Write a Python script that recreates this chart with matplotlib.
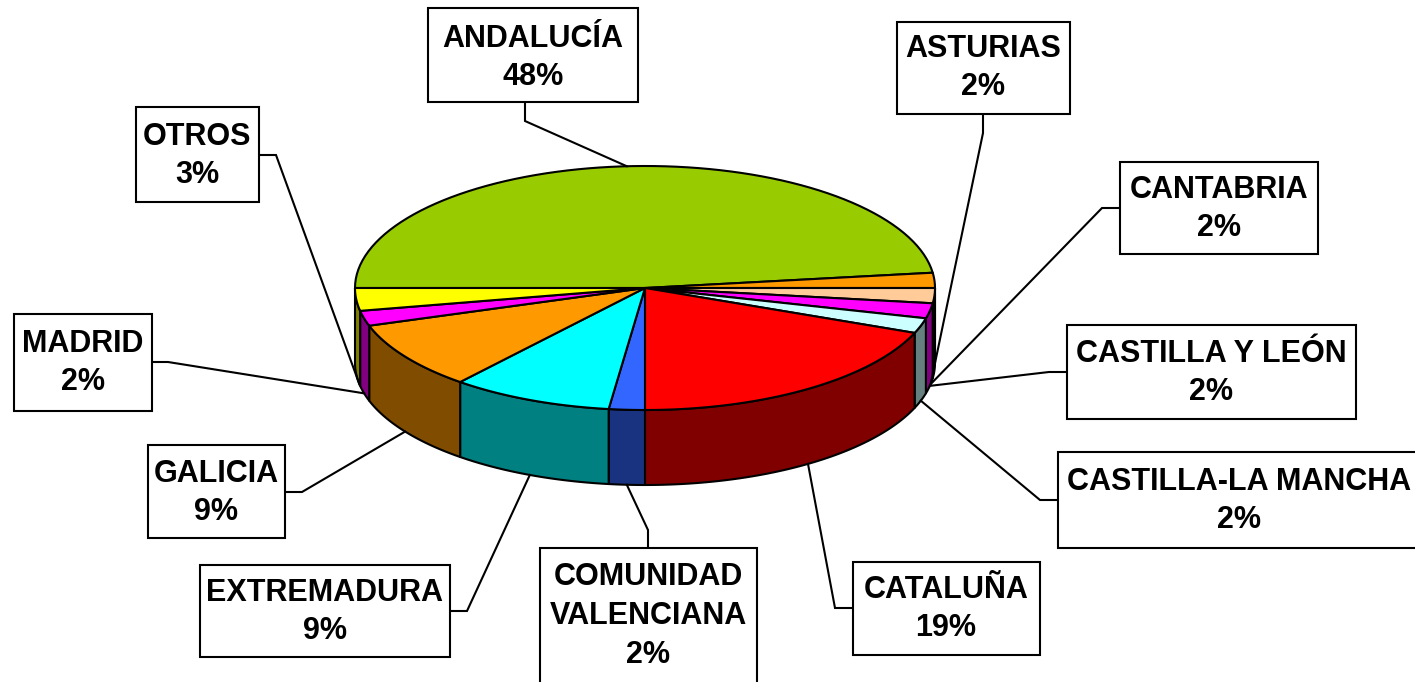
import matplotlib.pyplot as plt
import numpy as np
from matplotlib.patches import Polygon, Rectangle

plt.rcParams["font.family"] = ["Liberation Sans", "DejaVu Sans"]

# data, clockwise from the first slice
regions = ["ANDALUCÍA", "ASTURIAS", "CANTABRIA", "CASTILLA Y LEÓN", "CASTILLA-LA MANCHA",
           "CATALUÑA", "COMUNIDAD\nVALENCIANA", "EXTREMADURA", "GALICIA", "MADRID", "OTROS"]
shares = [48, 2, 2, 2, 2, 19, 2, 9, 9, 2, 3]
colors = ["#99CC00", "#FF9900", "#FFCC99", "#FF00FF", "#CCFFFF", "#FF0000",
          "#3366FF", "#00FFFF", "#FF9900", "#FF00FF", "#FFFF00"]

# pie geometry (pixels)
cx, cy, rx, ry, depth = 645, 288, 290, 122, 75
start_angle = 180

# label boxes (x0, y0, x1, y1), text centres, leader start point and its stub direction
boxes = [(428, 8, 638, 102), (897, 22, 1070, 114), (1120, 162, 1318, 254),
         (1067, 325, 1356, 419), (1058, 452, 1420, 548), (853, 562, 1040, 655),
         (540, 548, 757, 700), (200, 565, 450, 657), (148, 445, 285, 538),
         (14, 314, 152, 411), (136, 107, 259, 202)]
text_xy = [(533, 58), (983, 68), (1219, 209), (1211, 373), (1239, 501), (946, 609),
           (648, 616), (325, 612), (216, 493), (83, 363), (197, 156)]
leader_start = [(525, 102), (983, 114), (1120, 208), (1067, 372), (1058, 500),
                (853, 608), (648, 548), (450, 611), (285, 492), (152, 362), (259, 155)]
leader_stub = [(0, 19), (0, 19), (-18, 0), (-18, 0), (-18, 0), (-18, 0), (0, -18),
               (17, 0), (17, 0), (16, 0), (17, 0)]


def ellipse_pts(t0, t1, n=80, dy=0.0):
    t = np.radians(np.linspace(t0, t1, n))
    return np.column_stack([cx + rx * np.cos(t), cy - ry * np.sin(t) + dy])


def shade(hex_color, f=0.5):
    rgb = np.array([int(hex_color[i:i + 2], 16) for i in (1, 3, 5)]) / 255
    return tuple(rgb * f)


fig = plt.figure(figsize=(14.15, 6.82), dpi=100)
ax = fig.add_axes([0, 0, 1, 1])
ax.set_xlim(0, 1415)
ax.set_ylim(682, 0)
ax.axis("off")

edges = np.cumsum([start_angle] + [-s * 3.6 for s in shares])
lw = 1.5

# side walls (only the front half is visible)
for i, color in enumerate(colors):
    hi, lo = min(edges[i], 0), max(edges[i + 1], -180)
    if hi <= lo:
        continue
    top = ellipse_pts(hi, lo)
    bottom = ellipse_pts(lo, hi, dy=depth)
    ax.add_patch(Polygon(np.vstack([top, bottom]), closed=True, facecolor=shade(color),
                         edgecolor="black", linewidth=lw, joinstyle="round"))

# top face
for i, color in enumerate(colors):
    arc = ellipse_pts(edges[i], edges[i + 1])
    ax.add_patch(Polygon(np.vstack([[cx, cy], arc]), closed=True, facecolor=color,
                         edgecolor="black", linewidth=lw, joinstyle="round"))

# labels and leader lines
for i, (name, share) in enumerate(zip(regions, shares)):
    x0, y0, x1, y1 = boxes[i]
    ax.add_patch(Rectangle((x0, y0), x1 - x0, y1 - y0, facecolor="white",
                           edgecolor="black", linewidth=lw, zorder=3))
    tx, ty = text_xy[i]
    ax.text(tx, ty, f"{name}\n{share}%", ha="center", va="center", fontsize=22,
            fontweight="bold", linespacing=1.37, zorder=4)

    # anchor: top rim for the back slice, bottom of the side wall for the rest
    mid = (edges[i] + edges[i + 1]) / 2
    if mid > 45:
        px, py = ellipse_pts(mid, mid, 1)[0]
    else:
        t = np.clip(mid, -170, -10)
        px, py = ellipse_pts(t, t, 1, dy=depth)[0]

    bx, by = leader_start[i]
    sx, sy = bx + leader_stub[i][0], by + leader_stub[i][1]
    ax.plot([bx, sx, px], [by, sy, py], color="black", linewidth=lw, zorder=2,
            solid_joinstyle="miter")

fig.savefig("out.png", dpi=100)
